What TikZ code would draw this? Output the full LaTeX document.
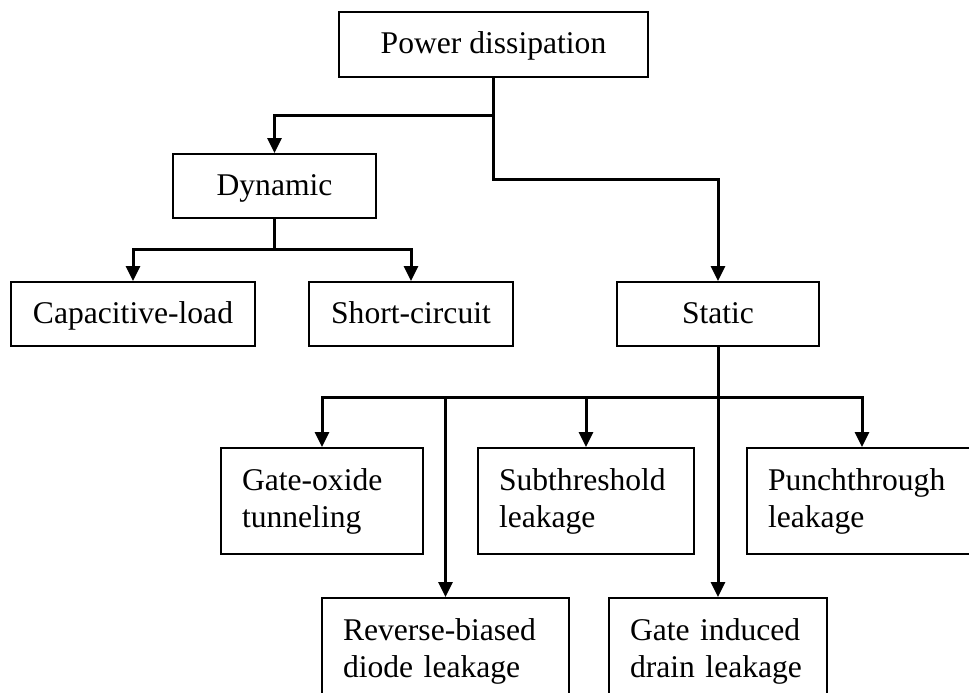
\documentclass[tikz,border=0pt]{standalone}
\usepackage{fontspec}
\setmainfont{Liberation Serif}
\usetikzlibrary{arrows.meta}
\begin{document}
\begin{tikzpicture}[x=1pt,y=-1pt,
  box/.style={draw, line width=2pt, inner sep=0pt, font=\fontsize{31.6}{37}\selectfont},
  onebox/.style={box, minimum height=64pt, text height=23pt, text depth=5pt},
  twobox/.style={box, minimum height=106pt, inner xsep=21pt, align=left},
  link/.style={line width=3pt},
  arr/.style={link, -{Triangle[width=14pt,length=15pt]}}]
\useasboundingbox (0,0) rectangle (969,693);

% boxes
\node[onebox, minimum width=309pt, minimum height=65pt] (pd) at (493.5,44.5) {Power dissipation};
\node[onebox, minimum width=203pt] (dy) at (274.5,186) {Dynamic};
\node[onebox, minimum width=244pt] (cl) at (133,314) {Capacitive-load};
\node[onebox, minimum width=204pt] (sc) at (411,314) {Short-circuit};
\node[onebox, minimum width=202pt] (st) at (718,314) {Static};
\node[twobox, text width=160pt] (go) at (322,501) {Gate-oxide\\tunneling};
\node[twobox, text width=174pt] (sl) at (586,501) {Subthreshold\\leakage};
\node[twobox, text width=188pt] (pl) at (862,501) {Punchthrough\\leakage};
\node[twobox, text width=205pt] (rb) at (445.5,651) {Reverse-biased\\diode leakage};
\node[twobox, text width=176pt] (gi) at (718,651) {Gate induced\\drain leakage};

% branching points
\coordinate (pdDyn) at (pd.south |- 0,115);
\coordinate (pdSt) at (pd.south |- 0,179);
\coordinate (dyFork) at (dy.south |- 0,249);
\coordinate (stFork) at (st.south |- 0,397);

% connectors
\draw[arr] (pd.south) -- (pdSt) -| (st.north);
\draw[arr] (pdDyn) -| (dy.north);
\draw[link] (dy.south) -- (dyFork);
\draw[arr] (dyFork) -| (cl.north);
\draw[arr] (dyFork) -| (sc.north);
\draw[arr] (st.south) -- (gi.north);
\draw[arr] (stFork) -| (go.north);
\draw[arr] (stFork) -| (sl.north);
\draw[arr] (stFork) -| (pl.north);
\draw[arr] (rb.north |- stFork) -- (rb.north);
\end{tikzpicture}
\end{document}
